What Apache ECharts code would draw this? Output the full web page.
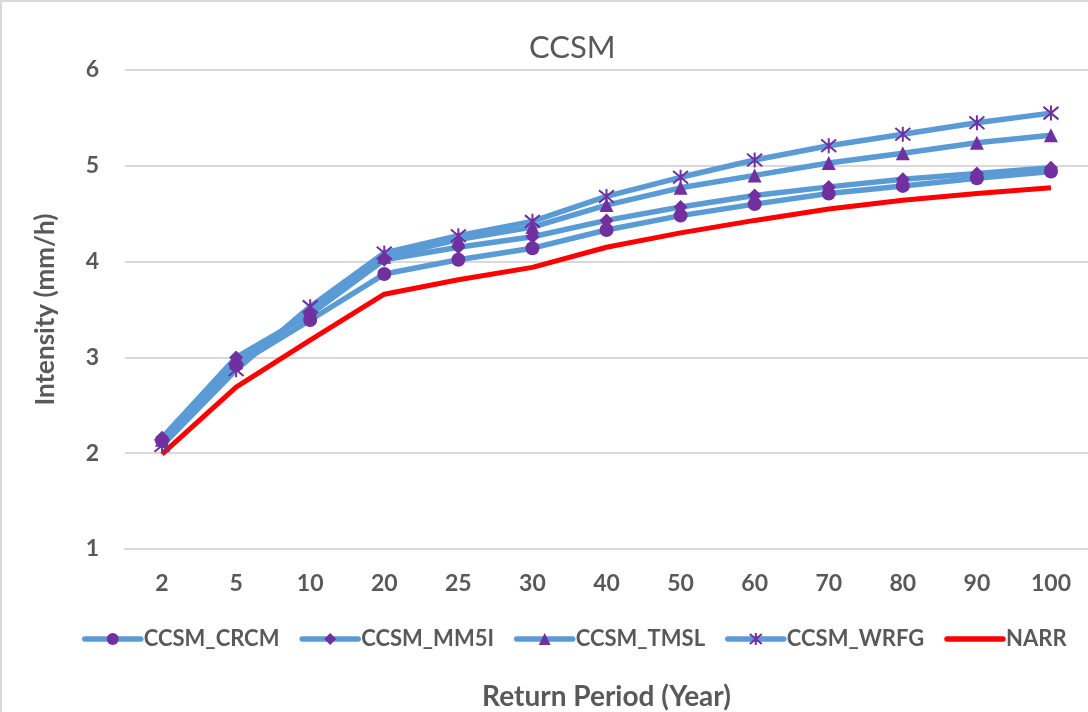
<!DOCTYPE html>
<html>
<head>
<meta charset="utf-8">
<script src="https://cdn.jsdelivr.net/npm/echarts@6/dist/echarts.min.js"></script>
<style>html,body{margin:0;padding:0;background:#fff;}#c{width:1088px;height:712px;}</style>
</head>
<body>
<div id="c"></div>
<script>
const categories = ['2','5','10','20','25','30','40','50','60','70','80','90','100'];
const ccsmCRCM = [2.13,2.92,3.39,3.87,4.02,4.14,4.33,4.48,4.60,4.71,4.79,4.87,4.94];
const ccsmMM5I = [2.16,3.00,3.45,4.02,4.15,4.26,4.43,4.57,4.69,4.78,4.86,4.92,4.98];
const ccsmTMSL = [2.14,2.95,3.48,4.05,4.23,4.36,4.59,4.77,4.90,5.03,5.13,5.24,5.32];
const ccsmWRFG = [2.08,2.87,3.53,4.09,4.27,4.42,4.68,4.88,5.06,5.21,5.33,5.45,5.55];
const narr     = [1.99,2.69,3.18,3.66,3.81,3.94,4.15,4.30,4.43,4.55,4.64,4.71,4.77];
const seriesNames = ['CCSM_CRCM','CCSM_MM5I','CCSM_TMSL','CCSM_WRFG','NARR'];

const FONT = 'Lato, "Open Sans", sans-serif';
const GRAY = '#595959';
const BLUE = '#5B9BD5';
const PURPLE = '#7030A0';
const asterisk = 'path://M0,0 L10,10 M10,0 L0,10 M5,-1 L5,11';

function blueSeries(name, data, symbol, size, extra) {
  return Object.assign({
    name: name, type: 'line', data: data,
    symbol: symbol, symbolSize: size,
    lineStyle: { color: BLUE, width: 5.5 },
    itemStyle: { color: PURPLE },
    emphasis: { disabled: true }
  }, extra || {});
}

const chart = echarts.init(document.getElementById('c'), null, { renderer: 'canvas' });
chart.setOption({
  animation: false,
  backgroundColor: '#fff',
  graphic: [
    { type: 'line', shape: { x1: 1, y1: 0, x2: 1, y2: 712 }, style: { stroke: '#D9D9D9', lineWidth: 2 }, z: 100 },
    { type: 'line', shape: { x1: 0, y1: 1, x2: 1088, y2: 1 }, style: { stroke: '#D9D9D9', lineWidth: 2 }, z: 100 }
  ],
  title: {
    text: 'CCSM', left: 524, top: 27,
    textStyle: { fontFamily: FONT, fontSize: 31, fontWeight: 'normal', color: GRAY }
  },
  grid: { left: 125, right: 0, top: 70, bottom: 163, containLabel: false, outerBoundsMode: 'none' },
  legend: {
    data: [
      { name: seriesNames[0] }, { name: seriesNames[1] }, { name: seriesNames[2] }, { name: seriesNames[3] },
      { name: seriesNames[4], itemStyle: { opacity: 0 } }
    ],
    left: 82, top: 628, width: 1006, padding: 0,
    itemWidth: 56, itemHeight: 15, itemGap: 20,
    lineStyle: { width: 5.5, cap: 'round' },
    textStyle: { fontFamily: FONT, fontSize: 22, fontWeight: 'bold', color: GRAY, padding: [0, 0, 0, -2] }
  },
  xAxis: {
    type: 'category', data: categories, boundaryGap: true,
    name: 'Return Period (Year)', nameLocation: 'middle', nameGap: 134,
    nameTextStyle: { fontFamily: FONT, fontSize: 28, fontWeight: 'bold', color: GRAY },
    axisLine: { show: true, lineStyle: { color: '#D9D9D9', width: 2 } },
    axisTick: { show: false },
    axisLabel: { fontFamily: FONT, fontSize: 23, fontWeight: 'bold', color: GRAY, margin: 23 }
  },
  yAxis: {
    type: 'value', min: 1, max: 6, interval: 1,
    name: 'Intensity (mm/h)', nameLocation: 'middle', nameGap: 66,
    nameTextStyle: { fontFamily: FONT, fontSize: 26, fontWeight: 'bold', color: GRAY },
    axisLine: { show: false }, axisTick: { show: false },
    splitLine: { lineStyle: { color: '#D9D9D9', width: 2 } },
    axisLabel: { fontFamily: FONT, fontSize: 23, fontWeight: 'bold', color: GRAY, margin: 26 }
  },
  series: [
    blueSeries(seriesNames[0], ccsmCRCM, 'circle', 14),
    blueSeries(seriesNames[1], ccsmMM5I, 'diamond', 14),
    blueSeries(seriesNames[2], ccsmTMSL, 'triangle', 14),
    blueSeries(seriesNames[3], ccsmWRFG, asterisk, 15, {
      itemStyle: { color: 'none', borderColor: PURPLE, borderWidth: 2 }
    }),
    {
      name: seriesNames[4], type: 'line', data: narr, symbol: 'none',
      lineStyle: { color: '#FF0000', width: 5 }, itemStyle: { color: '#FF0000' },
      emphasis: { disabled: true }
    }
  ]
});
</script>
</body>
</html>
